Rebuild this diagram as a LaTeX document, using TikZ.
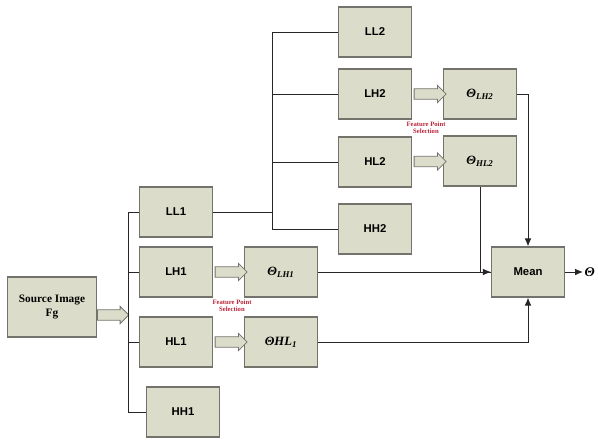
\documentclass[tikz,border=0pt]{standalone}
\usepackage{fontspec}
\setmainfont{Liberation Serif}
\setsansfont{Liberation Sans}
\usetikzlibrary{positioning,shapes.arrows,arrows.meta}
\definecolor{boxfill}{RGB}{220,220,202}
\definecolor{boxline}{RGB}{115,115,108}
\definecolor{fpsred}{RGB}{185,35,55}
\newcommand{\thetalbl}[1]{{\rmfamily\bfseries\itshape\fontsize{9.5}{10}\selectfont Θ\textsubscript{#1}}}

\begin{document}
\begin{tikzpicture}[x=0.75pt, y=-0.75pt,
    every node/.style={align=center},
    block/.style={draw=boxline, line width=0.8pt, fill=boxfill, minimum width=54.75pt,
        minimum height=37.5pt, inner sep=0pt, font=\sffamily\bfseries\fontsize{8.5}{10}\selectfont},
    source/.style={block, minimum width=66.75pt, minimum height=45pt,
        font=\rmfamily\bfseries\fontsize{8.5}{10}\selectfont},
    hollow/.style={single arrow, draw=boxline, line width=0.6pt, fill=boxfill, inner sep=3.6pt,
        single arrow head extend=2.6pt, minimum height=24pt},
    fps/.style={text=fpsred, font=\rmfamily\bfseries\fontsize{5}{5.5}\selectfont},
    wire/.style={draw=black!85, line width=0.75pt},
    >={Latex[length=6pt,width=5pt]}
]
\useasboundingbox (0,0) rectangle (598,439);

% first level
\node[source] (src) at (52,307) {Source Image\\Fg};
\node[block] (ll1) at (176,212) {LL1};
\node[block] (lh1) at (176,272) {LH1};
\node[block] (hl1) at (176,342) {HL1};
\node[block] (hh1) at (183,412) {HH1};

% second level
\node[block] (ll2) at (375,32) {LL2};
\node[block] (lh2) at (375,94) {LH2};
\node[block] (hl2) at (375,162) {HL2};
\node[block] (hh2) at (375,229) {HH2};

% selected points
\node[block] (tlh1) at (281,272) {\thetalbl{LH1}};
\node[block] (thl1) at (281,342) {{\rmfamily\bfseries\itshape\fontsize{9.5}{10}\selectfont ΘHL\textsubscript{1}}};
\node[block] (tlh2) at (480,94) {\thetalbl{LH2}};
\node[block] (thl2) at (480,161) {\thetalbl{HL2}};
\node[block] (mean) at (528,272) {Mean};
\node[anchor=west, inner sep=1pt, font=\rmfamily\bfseries\itshape\fontsize{10}{12}\selectfont] (out) at (583,272) {Θ};

\node[fps] (fps1) at (232,306) {Feature Point\\Selection};
\node[fps] (fps2) at (426,128) {Feature Point\\Selection};

% buses
\coordinate (b1) at (128,0);
\coordinate (b2) at (272,0);
\node[hollow, anchor=west, minimum height=23.5pt] (ar0) at ([yshift=-6pt]src.east) {};
\draw[wire] (ll1.west) -- (ll1.west -| b1) |- (hh1.west);
\foreach \n in {lh1,hl1}
    \draw[wire] (\n.west) -- (\n.west -| b1);
\draw[wire] (ll2.west) -- (ll2.west -| b2) |- (hh2.west);
\foreach \n in {lh2,hl2}
    \draw[wire] (\n.west) -- (\n.west -| b2);
\draw[wire] (ll1.east) -- (ll1.east -| b2);

% feature point selection arrows
\path (lh1) -- node[hollow] (ar1) {} (tlh1);
\path (hl1) -- node[hollow] (ar2) {} (thl1);
\path (lh2) -- node[hollow] (ar3) {} (tlh2);
\path (hl2) -- node[hollow] (ar4) {} (thl2);

% to the mean
\draw[wire,->] (tlh2.east) -| (mean.north);
\draw[wire,->] (thl2.south) |- (mean.west);
\draw[wire] (tlh1.east) -- (mean.west);
\draw[wire,->] (thl1.east) -| (mean.south);
\draw[wire,->] (mean.east) -- (out.west);
\end{tikzpicture}
\end{document}
